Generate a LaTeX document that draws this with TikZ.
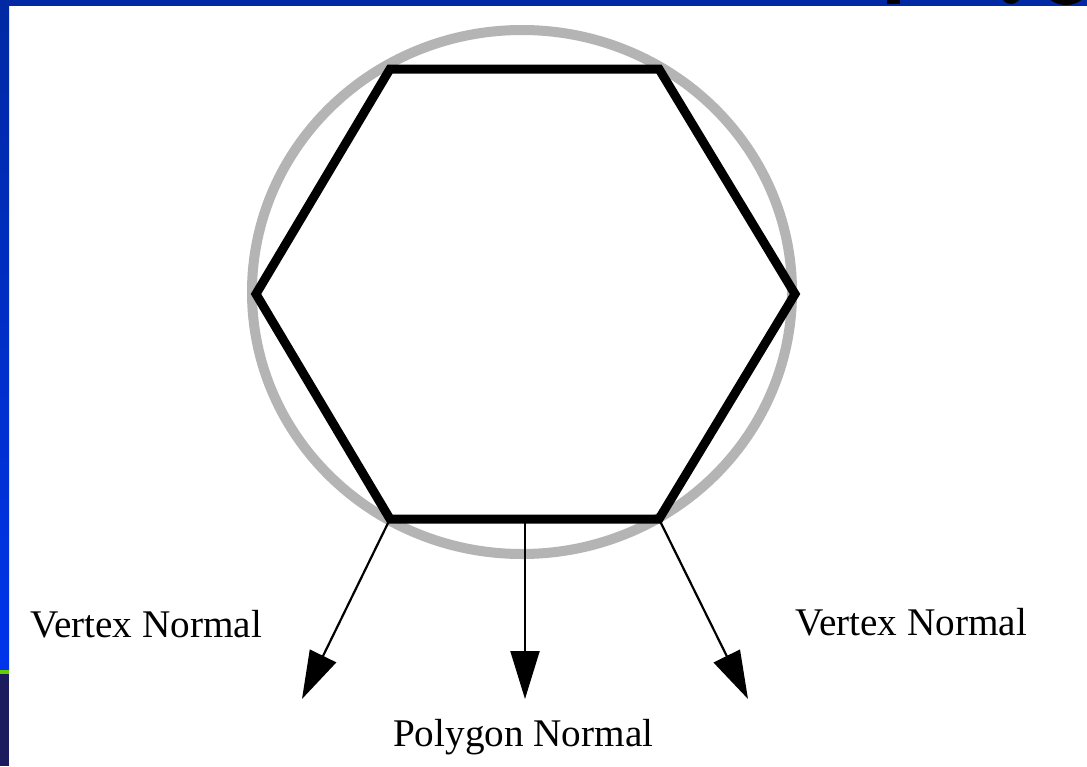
\documentclass[tikz,border=0pt]{standalone}
\usepackage{fontspec}
\setmainfont{Liberation Serif}
\usetikzlibrary{arrows.meta}
\definecolor{bluetop}{RGB}{0,41,163}
\definecolor{bluebot}{RGB}{0,52,235}
\definecolor{stripgreen}{RGB}{102,204,0}
\definecolor{navy}{RGB}{27,27,94}
\definecolor{ringgray}{RGB}{180,180,180}
\tikzset{
  normal/.style={line width=2.2pt,-{Triangle[length=48pt,width=29pt]}},
  label/.style={font=\fontsize{39.2}{42}\selectfont,inner sep=0pt,anchor=base west},
  hexline/.style={line width=9pt,line join=miter}
}
\begin{document}
\begin{tikzpicture}[x=1pt,y=-1pt]
\useasboundingbox (0,0) rectangle (1087,766);
\fill[white] (0,0) rectangle (1087,766);
% frame
\shade[top color=bluetop,bottom color=bluebot] (0,0) rectangle (9,670);
\fill[stripgreen] (0,670) rectangle (9,674);
\fill[navy] (0,674) rectangle (9,766);
\fill[bluetop] (0,0) rectangle (1087,6);
% cut-off title fragments
\begin{scope}
\clip (0,0) rectangle (1087,6);
\fill[black] (887,-10) rectangle (900,4);
\fill[black] (1011,-6) ellipse (10 and 10);
\fill[black] (1066,-14) ellipse (23 and 19);
\fill[bluetop] (1066,-14) ellipse (16 and 14);
\end{scope}
% ring
\draw[ringgray,line width=10pt] (522,292) ellipse (270 and 262);
% hexagon
\coordinate (tl) at (390,69);
\coordinate (tr) at (659,69);
\coordinate (r) at (795,294);
\coordinate (br) at (659,519);
\coordinate (bl) at (390,519);
\coordinate (l) at (256,294);
\coordinate (bm) at (525,522);
\draw[hexline] (tl) -- (tr) -- (r) -- (br) -- (bl) -- (l) -- cycle;
% normals
\coordinate (tipL) at (302,699);
\coordinate (tipM) at (525,699);
\coordinate (tipR) at (748,699);
\draw[normal] (bl) -- (tipL);
\draw[normal] (bm) -- (tipM);
\draw[normal] (br) -- (tipR);
% labels
\node[label] (vl) at (30,637) {Vertex Normal};
\node[label] (vr) at (795,635) {Vertex Normal};
\node[label] (pn) at (393,746) {Polygon Normal};
\end{tikzpicture}
\end{document}
